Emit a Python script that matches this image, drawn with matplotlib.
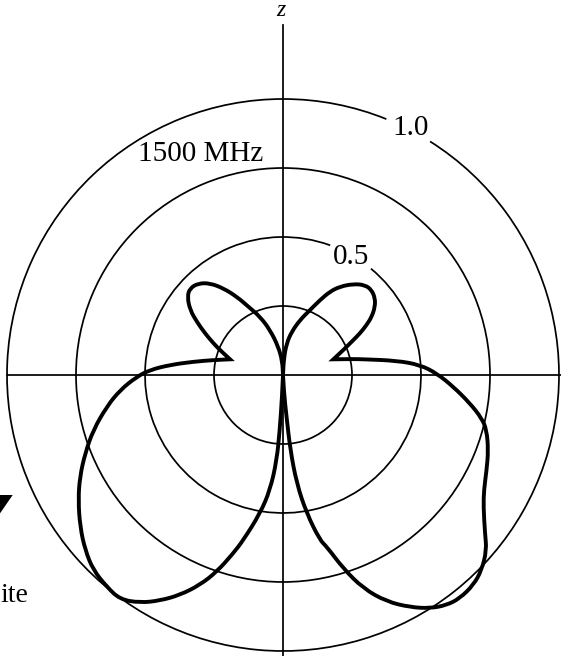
import numpy as np
import matplotlib
matplotlib.use('Agg')
import matplotlib.pyplot as plt
from matplotlib.patches import Arc, Polygon, PathPatch
from matplotlib.path import Path

plt.rcParams['font.family'] = ['Liberation Serif', 'DejaVu Serif']

# ---- pattern data: angle from +z (deg, clockwise positive), normalised r ----
theta_right = [0, 3, 6.6, 11.4, 17.2, 22.6, 26.3, 29.4, 32.8, 37.7, 42.3, 46.2,
               50.2, 53.4, 56.7, 59.1, 61.6, 64.1, 67.5, 72.7, 77.2, 78.9, 82.8,
               85.8, 89.4, 93.9, 98.6, 102.3, 105.1, 110.1, 115.0, 119.8, 123.3,
               128.1, 130.7, 134.5, 137.8, 141.6, 144.6, 147.8, 151.3, 155.4,
               159.4, 162.7, 165.7, 167.4, 170.3, 172.8, 174.4, 175.2, 177, 180]
r_right = [0, 0.06, 0.116, 0.160, 0.209, 0.255, 0.303, 0.347, 0.381, 0.417, 0.441,
           0.445, 0.434, 0.415, 0.385, 0.353, 0.317, 0.277, 0.237, 0.191, 0.261,
           0.296, 0.415, 0.498, 0.557, 0.618, 0.685, 0.737, 0.764, 0.792, 0.814,
           0.839, 0.869, 0.930, 0.973, 1.009, 1.027, 1.032, 1.023, 0.999, 0.959,
           0.903, 0.826, 0.734, 0.642, 0.613, 0.508, 0.396, 0.273, 0.152, 0.06, 0]

theta_left = [0, -3, -9.4, -16.1, -21.5, -26.9, -30.6, -34.5, -38.5, -42.7, -47.0,
              -50.7, -55.0, -58.3, -61.9, -65.5, -69.2, -73.5, -77.9, -81.6, -84.9,
              -87.8, -90.7, -95.3, -100.2, -106.2, -111.6, -116.6, -121.4, -126.8,
              -131.5, -135.8, -140.2, -144.0, -147.9, -151.4, -154.9, -158.4,
              -161.4, -164.4, -166.5, -170.6, -173.6, -175.8, -176.6, -177.5, -180]
r_left = [0, 0.05, 0.104, 0.170, 0.227, 0.278, 0.330, 0.381, 0.425, 0.452, 0.461,
          0.448, 0.411, 0.367, 0.320, 0.277, 0.238, 0.200, 0.258, 0.329, 0.411,
          0.482, 0.530, 0.593, 0.649, 0.716, 0.771, 0.823, 0.869, 0.918, 0.957,
          0.986, 0.998, 1.005, 0.974, 0.931, 0.880, 0.818, 0.752, 0.671, 0.615,
          0.508, 0.419, 0.309, 0.20, 0.08, 0]

# sharp notch where the upper lobe meets the main lobe (deg from +z)
cusp_right = 72.7
cusp_left = -73.5

ring_radii = [0.25, 0.5, 0.75, 1.0]
ring_labels = {0.5: '0.5', 1.0: '1.0'}
ring_gaps = {0.5: (20.0, 39.6), 1.0: (22.0, 32.2)}   # label gaps, deg from +z
freq_label = '1500 MHz'

# ---- layout (pixels of the 561x656 picture) ----
W, H = 561, 656
CX, CY, R = 283, 375, 276


def px(x, y):
    return (x - CX) / R, (CY - y) / R


def polar_xy(theta_deg, r):
    t = np.radians(np.asarray(theta_deg, dtype=float))
    r = np.asarray(r, dtype=float)
    return r * np.sin(t), r * np.cos(t)


def smooth_path(x, y, corners):
    """quadratic curves through midpoints; keeps the given indices as corners"""
    pts = np.column_stack([x, y])
    verts, codes = [], []
    cuts = [0] + sorted(corners) + [len(pts) - 1]
    for a, b in zip(cuts[:-1], cuts[1:]):
        seg = pts[a:b + 1]
        if not verts:
            verts.append(seg[0]); codes.append(Path.MOVETO)
        if len(seg) == 2:
            verts.append(seg[1]); codes.append(Path.LINETO)
            continue
        verts.append((seg[0] + seg[1]) / 2); codes.append(Path.LINETO)
        for i in range(1, len(seg) - 1):
            end = (seg[i] + seg[i + 1]) / 2 if i < len(seg) - 2 else seg[-1]
            verts += [seg[i], end]
            codes += [Path.CURVE3, Path.CURVE3]
    return Path(verts, codes)


fig = plt.figure(figsize=(W / 100, H / 100), dpi=100)
ax = fig.add_axes([0, 0, 1, 1])
ax.set_xlim(-CX / R, (W - CX) / R)
ax.set_ylim(-(H - CY) / R, CY / R)
ax.axis('off')

GRID_LW = 1.25
# rings
for rr in ring_radii:
    if rr in ring_gaps:
        g0, g1 = ring_gaps[rr]
        arc = Arc((0, 0), 2 * rr, 2 * rr, theta1=90 - g0, theta2=90 - g1 + 360,
                  color='black', lw=GRID_LW)
    else:
        arc = Arc((0, 0), 2 * rr, 2 * rr, theta1=0, theta2=360,
                  color='black', lw=GRID_LW)
    ax.add_patch(arc)

# axes lines
ax.plot([-1.0, 1.02], [0, 0], color='black', lw=GRID_LW)
ax.plot([0, 0], [-1.1, px(0, 25)[1]], color='black', lw=GRID_LW)

# pattern
for th, rv, cusp in [(theta_right, r_right, cusp_right),
                     (theta_left, r_left, cusp_left)]:
    x, y = polar_xy(th, rv)
    path = smooth_path(x, y, [th.index(cusp)])
    ax.add_patch(PathPatch(path, facecolor='none', edgecolor='black', lw=2.8,
                           joinstyle='miter', capstyle='round'))

# labels
FS = 21
ax.text(*px(410.3, 135), ring_labels[1.0], fontsize=FS, ha='center', va='baseline')
ax.text(*px(351.3, 264), ring_labels[0.5], fontsize=FS, ha='center', va='baseline')
ax.text(*px(200.8, 161), freq_label, fontsize=FS, ha='center', va='baseline')
ax.text(*px(281, 16.5), 'z', fontsize=17, style='italic', ha='center', va='baseline')

# fragments cut off at the left edge
ax.text(*px(28.5, 602), 'ite', fontsize=20, ha='right', va='baseline')
tri = Polygon([px(-18.7, 495), px(12.7, 495), px(-3, 517.7)], closed=True,
              facecolor='black', edgecolor='none')
ax.add_patch(tri)

fig.savefig('out.png', dpi=100, facecolor='white')
